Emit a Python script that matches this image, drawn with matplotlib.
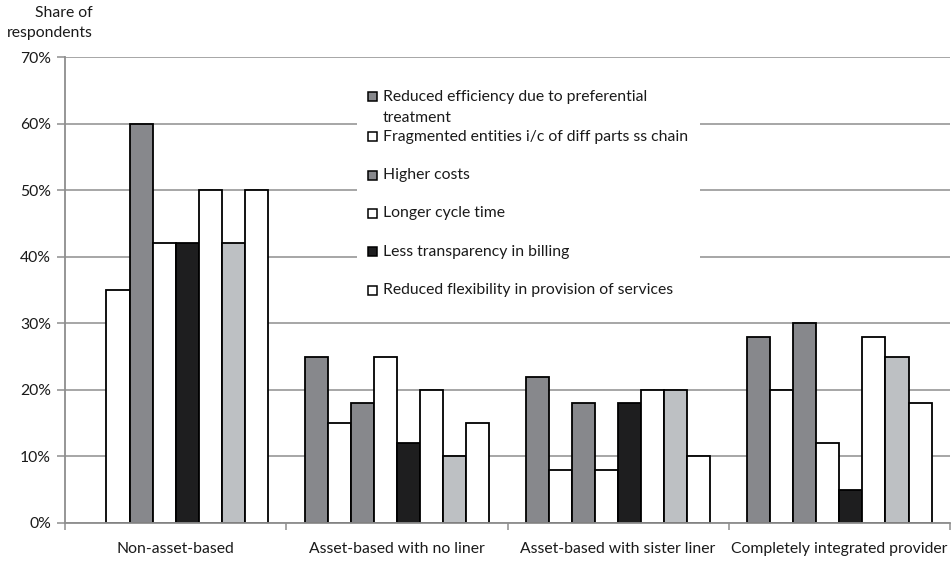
import matplotlib
matplotlib.use("Agg")
import matplotlib.pyplot as plt
from matplotlib.patches import Rectangle
import numpy as np

plt.rcParams['font.family'] = ['Lato', 'DejaVu Sans']

categories = ["Non-asset-based", "Asset-based with no liner",
              "Asset-based with sister liner", "Completely integrated provider"]

s_efficiency = [0, 25, 22, 28]
s_fragmented = [35, 15, 8, 20]
s_costs = [60, 18, 18, 30]
s_cycle = [42, 25, 8, 12]
s_billing = [42, 12, 18, 5]
s_flexibility = [50, 20, 20, 28]
s_other_a = [42, 10, 20, 25]
s_other_b = [50, 15, 10, 18]

series = [s_efficiency, s_fragmented, s_costs, s_cycle,
          s_billing, s_flexibility, s_other_a, s_other_b]

DARK = "#87888c"
BLACK = "#1e1e1f"
LIGHT = "#bdc0c3"
WHITE = "#ffffff"
colors = [DARK, WHITE, DARK, WHITE, BLACK, WHITE, LIGHT, WHITE]

legend_labels = ["Reduced efficiency due to preferential\ntreatment",
                 "Fragmented entities i/c of diff parts ss chain",
                 "Higher costs",
                 "Longer cycle time",
                 "Less transparency in billing",
                 "Reduced flexibility in provision of services"]

yticks = [0, 10, 20, 30, 40, 50, 60, 70]

FS = 11.3
TXT = "#1a1a1a"

W, H = 953, 566
fig = plt.figure(figsize=(W / 100, H / 100), dpi=100)
ax_l, ax_r, ax_t, ax_b = 65, 950, 57, 523
ax = fig.add_axes([ax_l / W, 1 - ax_b / H, (ax_r - ax_l) / W, (ax_b - ax_t) / H])

n = len(series)
width = 1 / 9.6
x = np.arange(len(categories))
for i, (vals, c) in enumerate(zip(series, colors)):
    offs = (i - (n - 1) / 2) * width
    lws = [1.3 if v > 0 else 0 for v in vals]
    ax.bar(x + offs, vals, width, color=c, edgecolor="black", linewidth=lws, zorder=3)

ax.set_xlim(-0.5, len(categories) - 0.5)
ax.set_ylim(0, 70)
ax.set_yticks(yticks)
ax.set_yticklabels([f"{v}%" for v in yticks], fontsize=FS, color=TXT)
ax.yaxis.grid(True, color="#8e8e8e", linewidth=1.1, zorder=0)
ax.set_axisbelow(True)

# category labels between tick marks at group boundaries
ax.set_xticks(np.arange(len(categories) + 1) - 0.5)
ax.set_xticklabels([])
ax.set_xticks(x, minor=True)
ax.set_xticklabels(categories, minor=True, fontsize=FS, color=TXT)
ax.tick_params(axis="x", which="minor", length=0, pad=14)
ax.tick_params(axis="x", which="major", length=5, width=1.1, color="#8e8e8e", direction="out")
ax.tick_params(axis="y", length=6, width=1.1, color="#8e8e8e", direction="out", pad=4)

for s in ["top", "right"]:
    ax.spines[s].set_visible(False)
for s in ["left", "bottom"]:
    ax.spines[s].set_color("#8e8e8e")
    ax.spines[s].set_linewidth(1.3)
    ax.spines[s].set_zorder(4)

fig.text(93 / W, 1 - 13 / H, "Share of", ha="right", va="center", fontsize=FS, color=TXT)
fig.text(93 / W, 1 - 33 / H, "respondents", ha="right", va="center", fontsize=FS, color=TXT)

# legend drawn in figure pixel space
def fx(px):
    return px / W

def fy(py):
    return 1 - py / H

fig.patches.append(Rectangle((fx(357), fy(310)), fx(700) - fx(357), fy(80) - fy(310),
                             transform=fig.transFigure, facecolor="white",
                             edgecolor="none", zorder=5))
ys = [96.7, 136.7, 175, 213, 251.7, 290]
for lab, c, yy in zip(legend_labels, colors[:6], ys):
    sq = 9
    fig.patches.append(Rectangle((fx(368), fy(yy + sq / 2)), sq / W, sq / H,
                                 transform=fig.transFigure, facecolor=c,
                                 edgecolor="black", linewidth=1.1, zorder=6))
    first, *rest = lab.split("\n")
    fig.text(fx(383), fy(yy), first, ha="left", va="center", fontsize=FS,
             color=TXT, zorder=7)
    for k, line in enumerate(rest):
        fig.text(fx(383), fy(yy + 21 * (k + 1)), line, ha="left", va="center",
                 fontsize=FS, color=TXT, zorder=7)

fig.savefig("out.png", dpi=100, facecolor="white")
